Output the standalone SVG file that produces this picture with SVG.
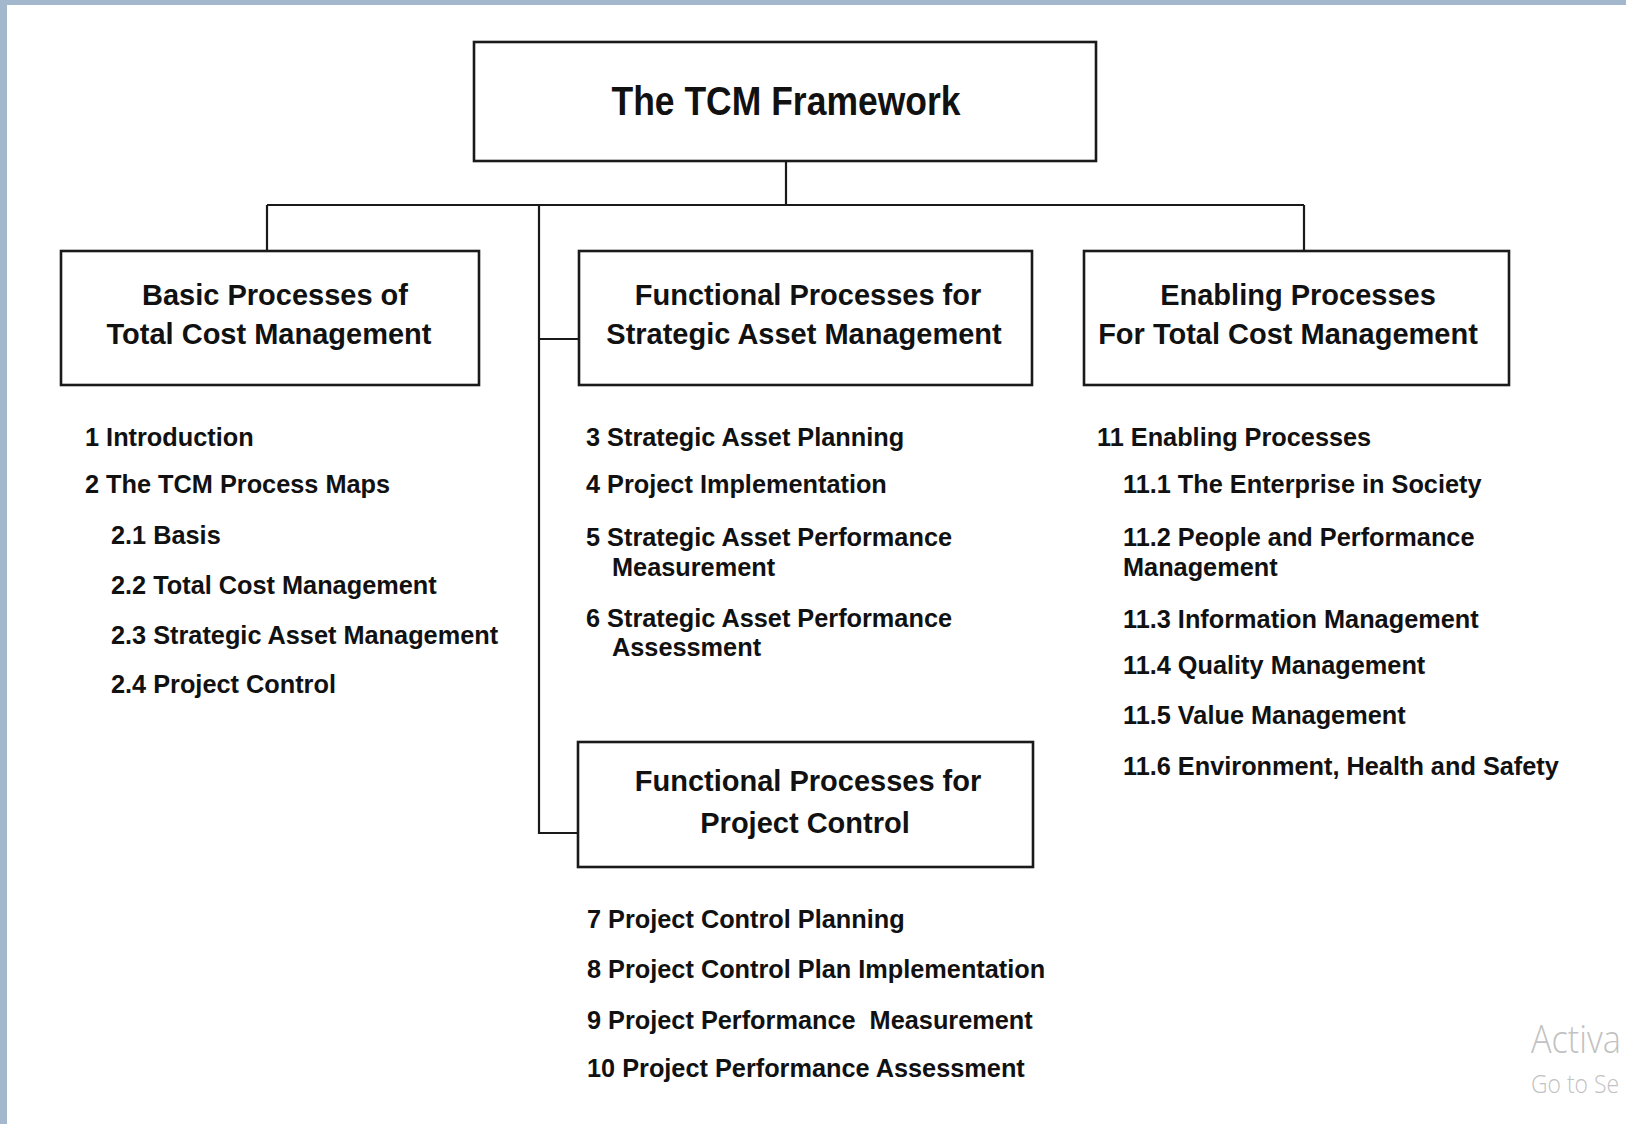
<svg xmlns="http://www.w3.org/2000/svg" width="1626" height="1124" viewBox="0 0 1626 1124">
  <defs>
    <style>
      .box { fill: #ffffff; stroke: #1a1a1a; stroke-width: 2.6; }
      .conn { fill: none; stroke: #1a1a1a; stroke-width: 2.2; }
      .title { font-family: "Liberation Sans", Arial, sans-serif; font-weight: bold; font-size: 40px; fill: #111111; text-anchor: middle; }
      .head { font-family: "Liberation Sans", Arial, sans-serif; font-weight: bold; font-size: 29px; fill: #111111; text-anchor: middle; }
      .item { font-family: "Liberation Sans", Arial, sans-serif; font-weight: bold; font-size: 25.3px; fill: #111111; white-space: pre; }
      .wm { font-family: "Open Sans", "Noto Sans", sans-serif; font-weight: 300; fill: #c2c2c2; }
    </style>
  </defs>
  <rect x="0" y="0" width="1626" height="1124" fill="#ffffff"/>
  <rect x="0" y="0" width="1626" height="5" fill="#a3b8cd"/>
  <rect x="0" y="0" width="7" height="1124" fill="#a3b8cd"/>

  <g id="connectors">
    <path class="conn" d="M786 161 V205 M267 205 H1304 M267 205 V251 M1304 205 V251 M539 205 V833 H578 M539 339 H579"/>
  </g>

  <g id="node-tcm">
    <rect class="box" x="474" y="42" width="622" height="119"/>
    <text class="title" x="786" y="115" textLength="349" lengthAdjust="spacingAndGlyphs">The TCM Framework</text>
  </g>

  <g id="node-basic">
    <rect class="box" x="61" y="251" width="418" height="134"/>
    <text class="head" x="275" y="305">Basic Processes of</text>
    <text class="head" x="269" y="344">Total Cost Management</text>
  </g>

  <g id="node-sam">
    <rect class="box" x="579" y="251" width="453" height="134"/>
    <text class="head" x="808" y="305">Functional Processes for</text>
    <text class="head" x="804" y="344">Strategic Asset Management</text>
  </g>

  <g id="node-enabling">
    <rect class="box" x="1084" y="251" width="425" height="134"/>
    <text class="head" x="1298" y="305">Enabling Processes</text>
    <text class="head" x="1288" y="344">For Total Cost Management</text>
  </g>

  <g id="node-pc">
    <rect class="box" x="578" y="742" width="455" height="125"/>
    <text class="head" x="808" y="791">Functional Processes for</text>
    <text class="head" x="805" y="833">Project Control</text>
  </g>

  <g id="list-basic">
    <text class="item" x="85" y="446">1 Introduction</text>
    <text class="item" x="85" y="493">2 The TCM Process Maps</text>
    <text class="item" x="111" y="544">2.1 Basis</text>
    <text class="item" x="111" y="594">2.2 Total Cost Management</text>
    <text class="item" x="111" y="644">2.3 Strategic Asset Management</text>
    <text class="item" x="111" y="693">2.4 Project Control</text>
  </g>

  <g id="list-sam">
    <text class="item" x="586" y="446">3 Strategic Asset Planning</text>
    <text class="item" x="586" y="493">4 Project Implementation</text>
    <text class="item" x="586" y="546">5 Strategic Asset Performance</text>
    <text class="item" x="612" y="576">Measurement</text>
    <text class="item" x="586" y="627">6 Strategic Asset Performance</text>
    <text class="item" x="612" y="656">Assessment</text>
  </g>

  <g id="list-pc">
    <text class="item" x="587" y="928">7 Project Control Planning</text>
    <text class="item" x="587" y="978">8 Project Control Plan Implementation</text>
    <text class="item" x="587" y="1029" xml:space="preserve">9 Project Performance  Measurement</text>
    <text class="item" x="587" y="1077">10 Project Performance Assessment</text>
  </g>

  <g id="list-enabling">
    <text class="item" x="1097" y="446">11 Enabling Processes</text>
    <text class="item" x="1123" y="493">11.1 The Enterprise in Society</text>
    <text class="item" x="1123" y="546">11.2 People and Performance</text>
    <text class="item" x="1123" y="576">Management</text>
    <text class="item" x="1123" y="628">11.3 Information Management</text>
    <text class="item" x="1123" y="674">11.4 Quality Management</text>
    <text class="item" x="1123" y="724">11.5 Value Management</text>
    <text class="item" x="1123" y="775">11.6 Environment, Health and Safety</text>
  </g>

  <g id="watermark">
    <text class="wm" x="1531" y="1053" font-size="39" textLength="90" lengthAdjust="spacingAndGlyphs">Activa</text>
    <text class="wm" x="1531" y="1093" font-size="26" textLength="88" lengthAdjust="spacingAndGlyphs">Go to Se</text>
  </g>
</svg>
